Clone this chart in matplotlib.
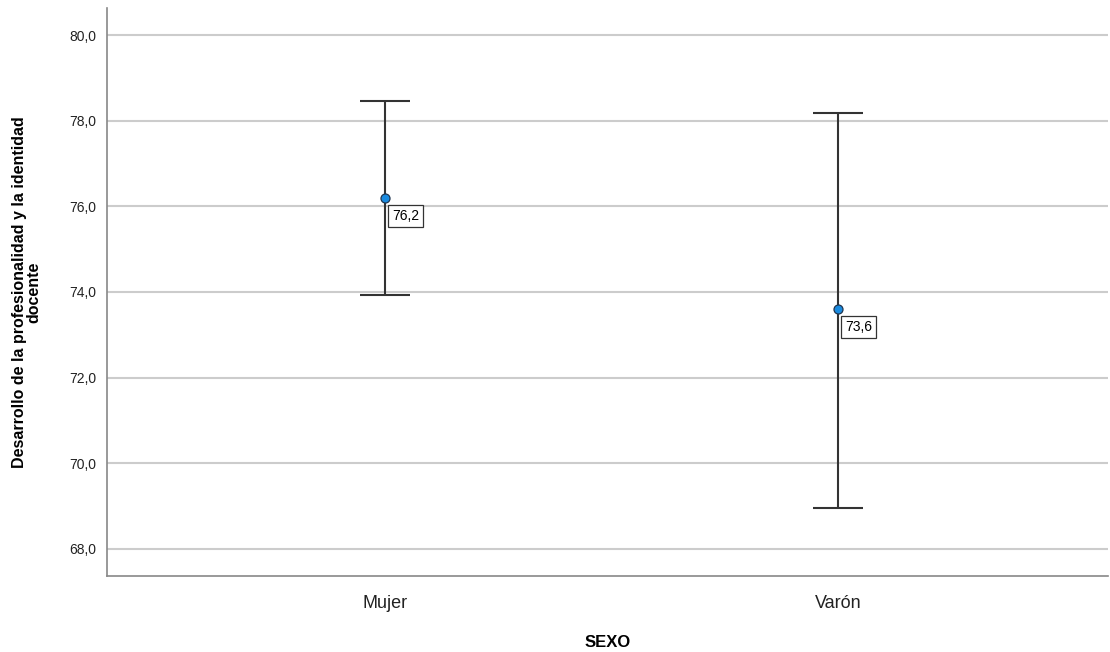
import matplotlib.pyplot as plt

plt.rcParams['font.family'] = ['Liberation Sans', 'DejaVu Sans']

grupos = ["Mujer", "Varón"]
medias = [76.2, 73.6]
ic_sup = [78.45, 78.18]
ic_inf = [73.92, 68.95]
yticks = [68, 70, 72, 74, 76, 78, 80]

fig = plt.figure(figsize=(11.1, 6.52), dpi=100)
ax = fig.add_axes([0.0964, 0.1166, 0.9016, 0.8711])

x = list(range(len(grupos)))
err_lo = [m - l for m, l in zip(medias, ic_inf)]
err_hi = [u - m for m, u in zip(medias, ic_sup)]
ax.errorbar(x, medias, yerr=[err_lo, err_hi], fmt='none', ecolor='#333333',
            elinewidth=1.5, capsize=18, capthick=1.5, zorder=3)
ax.scatter(x, medias, s=42, color='#1a8be0', edgecolor='#1f3550', linewidth=0.9, zorder=4)

for xi, m in zip(x, medias):
    ax.annotate(f"{m:.1f}".replace('.', ','), (xi, m), xytext=(5, -13),
                textcoords='offset points', fontsize=10, va='center', ha='left',
                bbox=dict(boxstyle='square,pad=0.28', fc='white', ec='#333333', lw=0.9),
                zorder=5)

ax.set_xlim(-0.614, 1.596)
ax.set_ylim(67.37, 80.63)
ax.set_yticks(yticks)
ax.set_yticklabels([f"{v:.1f}".replace('.', ',') for v in yticks], fontsize=10)
ax.set_xticks(x)
ax.set_xticklabels(grupos, fontsize=13)
ax.yaxis.grid(True, color='#cccccc', linewidth=1.5)
ax.set_axisbelow(True)
ax.tick_params(axis='both', length=0, colors='#222222')
ax.tick_params(axis='x', pad=14)
ax.tick_params(axis='y', pad=8)
for s in ['top', 'right']:
    ax.spines[s].set_visible(False)
for s in ['left', 'bottom']:
    ax.spines[s].set_color('#888888')
    ax.spines[s].set_linewidth(1.2)

ax.set_xlabel("SEXO", fontsize=12, fontweight='bold', labelpad=16)
ax.set_ylabel("Desarrollo de la profesionalidad y la identidad\ndocente", fontsize=11.5,
              fontweight='bold', labelpad=20, linespacing=0.95)

fig.savefig("out.png", dpi=100)
